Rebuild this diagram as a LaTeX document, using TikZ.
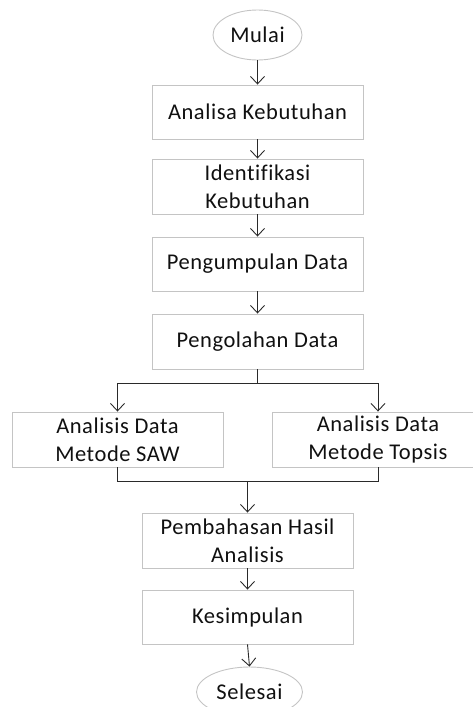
\documentclass[tikz,border=0pt]{standalone}
\usepackage{fontspec}
\setmainfont{Carlito}[Ligatures=NoCommon, LetterSpace=2.5]
\usetikzlibrary{shapes.geometric,arrows.meta}
\definecolor{boxline}{HTML}{C4C4C4}
\definecolor{conn}{HTML}{2A2A2A}
\definecolor{txt}{HTML}{101010}
\begin{document}
\begin{tikzpicture}[x=1pt,y=-1pt,
  every node/.style={font=\fontsize{22.5}{28}\selectfont, text=txt, align=center, inner sep=0pt},
  procbox/.style={draw=boxline, line width=0.9pt, rectangle, minimum width=211pt, minimum height=55pt},
  termbox/.style={draw=boxline, line width=0.9pt, ellipse, minimum width=#1, minimum height=50pt},
  link/.style={draw=conn, line width=0.9pt},
  arr/.style={link, -{Straight Barb[length=7.5pt,width=14pt]}}
]
\useasboundingbox (0,0) rectangle (472,707);

\node[termbox=89pt] (mulai) at (257.5,35) {Mulai};
\node[procbox, minimum height=54pt] (b1) at (257.5,112) {Analisa Kebutuhan};
\node[procbox] (b2) at (257.5,186.5) {Identifikasi\\Kebutuhan};
\node[procbox, minimum height=54pt] (b3) at (257.5,264) {Pengumpulan Data};
\node[procbox] (b4) at (257.5,341.5) {Pengolahan Data};
\node[procbox] (saw) at (117.5,439.5) {Analisis Data\\Metode SAW};
\node[procbox, minimum width=212pt] (topsis) at (378,439.5) {Analisis Data\\Metode Topsis};
\node[procbox] (b5) at (247.5,540.5) {Pembahasan Hasil\\Analisis};
\node[procbox, minimum height=54pt] (b6) at (247.5,617) {Kesimpulan};
\node[termbox=106pt] (selesai) at (249.5,692) {Selesai};

\coordinate (split) at (257.5,383);
\coordinate (join) at (247.5,481);

\draw[arr] (mulai.south) -- (b1.north);
\draw[arr] (b1.south) -- (b2.north);
\draw[arr] (b2.south) -- (b3.north);
\draw[arr] (b3.south) -- (b4.north);
\draw[link] (b4.south) -- (split);
\draw[arr] (split) -| (saw.north);
\draw[arr] (split) -| (topsis.north);
\draw[link] (saw.south) |- (join);
\draw[link] (topsis.south) |- (join);
\draw[arr] (join) -- (b5.north);
\draw[arr] (b5.south) -- (b6.north);
\draw[arr] (b6.south) -- (selesai.north);
\end{tikzpicture}
\end{document}
